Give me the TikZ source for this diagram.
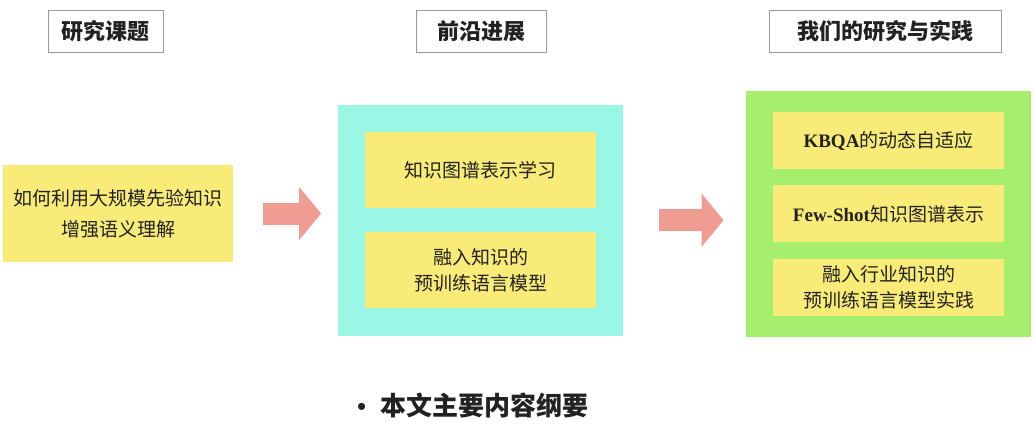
\documentclass[tikz,border=0pt]{standalone}
\usepackage{fontspec}
\setmainfont{Liberation Serif}
\newfontfamily\cjk{Noto Sans CJK SC}
\usetikzlibrary{arrows.meta,positioning,fit,backgrounds}
\definecolor{cbox}{HTML}{F9EB78}
\definecolor{ccyan}{HTML}{9AF7E6}
\definecolor{cgreen}{HTML}{A6EE6E}
\definecolor{carrow}{HTML}{F09C93}
\definecolor{cframe}{HTML}{9A9A9A}
\definecolor{cink}{HTML}{222222}
\newcommand{\lat}[1]{{\rmfamily\bfseries #1}}
\tikzset{
  hdr/.style={draw=cframe,line width=1pt,fill=white,text=cink,
              font=\cjk\bfseries\fontsize{22}{26}\selectfont,minimum height=42pt,inner sep=0pt},
  ybox/.style={fill=cbox,text=cink,align=center,font=\cjk\fontsize{19}{26}\selectfont,
               minimum width=231pt,inner sep=0pt},
  bigarrow/.style={carrow,line width=22pt,-{Triangle[length=22pt,width=52pt]}},
}
\begin{document}
\begin{tikzpicture}[x=1pt,y=1pt]
\useasboundingbox (0,0) rectangle (1034,-431);

\node[hdr,minimum width=115pt] (h1) at (105.5,-31.5) {研究课题};
\node[hdr,minimum width=130pt] (h2) at (481,-31) {前沿进展};
\node[hdr,minimum width=232pt] (h3) at (885,-31.5) {我们的研究与实践};

\node[ybox,minimum width=230pt,minimum height=97pt,font=\cjk\fontsize{19}{31}\selectfont] (q) at (118,-213.5)
  {如何利用大规模先验知识\\增强语义理解};

\node[ybox,minimum height=76pt] (k1) at (480.5,-170) {知识图谱表示学习};
\node[ybox,minimum height=76pt,below=24pt of k1] (k2) {融入知识的\\预训练语言模型};

\node[ybox,minimum height=57pt] (r1) at (888.5,-140.5) {\lat{KBQA}的动态自适应};
\node[ybox,minimum height=57pt,below=16pt of r1] (r2) {\lat{Few-Shot}知识图谱表示};
\node[ybox,minimum height=57pt,below=16pt of r2] (r3) {融入行业知识的\\预训练语言模型实践};

\begin{scope}[on background layer]
  \node[fill=ccyan,fit=(k1)(k2),inner xsep=26.5pt,inner ysep=27pt] (pA) {};
  \node[fill=cgreen,fit=(r1)(r3),inner xsep=27pt,inner ysep=20.5pt] (pB) {};
\end{scope}

\draw[bigarrow,shorten <=30pt,shorten >=17pt] (q.east) -- (q.east -| pA.west);
\draw[bigarrow,shorten <=36pt,shorten >=22pt] (pA.east) -- (pA.east -| pB.west);

\node[anchor=west,inner sep=0pt,text=cink,font=\bfseries\fontsize{26}{30}\selectfont] (sum) at (357,-405)
  {\textbullet\hspace{14pt}{\cjk 本文主要内容纲要}};

\end{tikzpicture}
\end{document}
